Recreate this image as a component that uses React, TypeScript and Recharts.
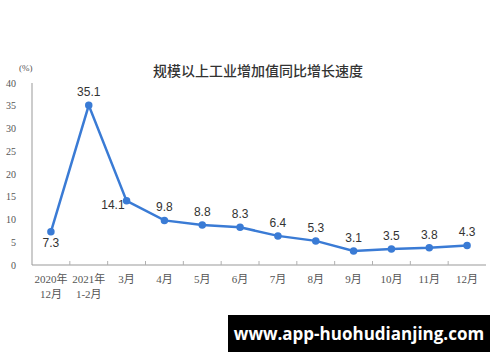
import { LineChart, Line, XAxis, YAxis, LabelList } from "recharts";

const months = ["2020年|12月", "2021年|1-2月", "3月", "4月", "5月", "6月", "7月", "8月", "9月", "10月", "11月", "12月"];
const growth = [7.3, 35.1, 14.1, 9.8, 8.8, 8.3, 6.4, 5.3, 3.1, 3.5, 3.8, 4.3];
const yTicks = [0, 5, 10, 15, 20, 25, 30, 35, 40];

const data = months.map((m, i) => ({ month: m, value: growth[i] }));

const BLUE = "#3a7bd5";
const FRAME = "#b0b0b0";
const TICK_FONT = "'Liberation Serif', 'Noto Sans CJK SC', serif";
const W = 500;
const H = 362;
const MARGIN = { top: 83, right: 14, bottom: 67, left: 0 };
const Y_WIDTH = 32;
const X_HEIGHT = 30;
const AXIS_Y = H - MARGIN.bottom - X_HEIGHT;
const BAND = (W - MARGIN.left - MARGIN.right - Y_WIDTH) / months.length;
const PAD = { left: BAND / 2, right: BAND / 2 };

const MonthTick = (props: any) => {
  const { x, payload, index } = props;
  const lines = String(payload.value).split("|");
  return (
    <g>
      {/* short divider marks between categories, standing on the axis */}
      {index < months.length - 1 && (
        <line x1={x + BAND / 2} x2={x + BAND / 2} y1={AXIS_Y} y2={AXIS_Y - 4} stroke={FRAME} />
      )}
      {lines.map((t, i) => (
        <text key={i} x={x} y={AXIS_Y + 18 + i * 15} textAnchor="middle" fontFamily={TICK_FONT} fontSize={11} fill="#555">
          {t}
        </text>
      ))}
    </g>
  );
};

const ValueLabel = (props: any) => {
  const { x, y, value, index } = props;
  let lx = x;
  let ly = y - 9;
  let anchor: "middle" | "end" = "middle";
  if (index === 0) ly = y + 15; // first point sits above its label
  if (index === 2) {
    lx = x - 2;
    ly = y + 8;
    anchor = "end";
  }
  return (
    <text x={lx} y={ly} textAnchor={anchor} fontFamily="'Liberation Sans', Arial, sans-serif" fontSize={12} fill="#333">
      {value.toFixed(1)}
    </text>
  );
};

const App = () => (
  <div style={{ position: "absolute", left: 0, top: 0, width: W, height: H, background: "#fff" }}>
    <div
      style={{
        position: "absolute",
        top: 60,
        left: 0,
        width: 516,
        textAlign: "center",
        fontFamily: "'Noto Sans CJK SC', sans-serif",
        fontWeight: 500,
        fontSize: 14,
        color: "#333",
        lineHeight: "20px",
      }}
    >
      规模以上工业增加值同比增长速度
    </div>
    <div style={{ position: "absolute", top: 63, left: 19, fontFamily: TICK_FONT, fontSize: 9, color: "#555" }}>(%)</div>
    <LineChart width={W} height={H} data={data} margin={MARGIN}>
      <XAxis
        dataKey="month"
        interval={0}
        padding={PAD}
        tick={<MonthTick />}
        tickLine={false}
        axisLine={{ stroke: "#999" }}
        height={X_HEIGHT}
      />
      <XAxis
        xAxisId="top"
        dataKey="month"
        orientation="top"
        padding={PAD}
        tick={false}
        tickLine={false}
        axisLine={{ stroke: FRAME }}
        height={0}
      />
      <YAxis
        domain={[0, 40]}
        ticks={yTicks}
        width={Y_WIDTH}
        tickLine={false}
        tickMargin={10}
        axisLine={{ stroke: "#999" }}
        tick={{ fontFamily: TICK_FONT, fontSize: 10, fill: "#555" }}
      />
      <YAxis yAxisId="right" orientation="right" domain={[0, 40]} tick={false} tickLine={false} axisLine={{ stroke: FRAME }} width={0} />
      <Line
        type="linear"
        dataKey="value"
        stroke={BLUE}
        strokeWidth={2.5}
        dot={{ r: 2.5, fill: BLUE, stroke: BLUE }}
        isAnimationActive={false}
      >
        <LabelList dataKey="value" content={<ValueLabel />} />
      </Line>
    </LineChart>
    <div
      style={{
        position: "absolute",
        left: 228,
        top: 315,
        width: 262,
        height: 37,
        background: "#000",
        color: "#fff",
        fontFamily: "'Open Sans', 'DejaVu Sans', sans-serif",
        fontWeight: 700,
        fontSize: 17,
        lineHeight: "37px",
        textAlign: "center",
      }}
    >
      www.app-huohudianjing.com
    </div>
  </div>
);

export default App;
